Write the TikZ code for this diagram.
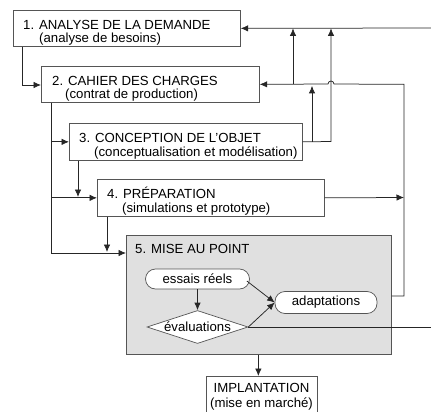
\documentclass[tikz,border=0pt]{standalone}
\usepackage{fontspec}
\setmainfont{Liberation Sans}
\usetikzlibrary{arrows.meta,shapes.geometric}
\definecolor{panel}{HTML}{E0E0E0}
\definecolor{edge}{HTML}{555555}
\begin{document}
\begin{tikzpicture}[x=1pt,y=-1pt,
  font=\fontsize{13.2}{15}\selectfont,
  box/.style={draw=edge, fill=white, line width=0.7pt, anchor=north west, inner sep=0pt},
  txt/.style={anchor=base west, inner sep=0pt},
  ctxt/.style={anchor=base, inner sep=0pt},
  pill/.style={draw=edge, fill=white, line width=0.7pt, rounded corners=10pt, inner sep=0pt},
  conn/.style={line width=0.75pt, draw=black!85},
  arr/.style={conn, -{Latex[length=7.5pt,width=6.5pt]}}]
\useasboundingbox (0,0) rectangle (431,412);

% main boxes
\node[box, minimum width=227pt, minimum height=36pt] (b1) at (13,10) {};
\node[txt] (t1) at (23,29.5) {1. ANALYSE DE LA DEMANDE};
\node[txt] (s1) at (39,43) {(analyse de besoins)};

\node[box, minimum width=218pt, minimum height=36pt] (b2) at (41,66) {};
\node[txt] (t2) at (52,85.5) {2. CAHIER DES CHARGES};
\node[txt] (s2) at (65,99) {(contrat de production)};

\node[box, minimum width=233pt, minimum height=37pt] (b3) at (69,123) {};
\node[txt] (t3) at (79,142.5) {3. CONCEPTION DE L'OBJET};
\node[txt] (s3) at (94,156) {(conceptualisation et modélisation)};

\node[box, minimum width=227pt, minimum height=37pt] (b4) at (97,179) {};
\node[txt] (t4) at (107,198.5) {4. PRÉPARATION};
\node[txt] (s4) at (122,212) {(simulations et prototype)};

\node[box, fill=panel, minimum width=265pt, minimum height=119pt] (b5) at (126,235) {};
\node[txt] (t5) at (135,253) {5. MISE AU POINT};

\node[box, minimum width=111pt, minimum height=36pt] (b6) at (206,376) {};
\node[ctxt] (t6) at (261.5,392) {IMPLANTATION};
\node[ctxt] (s6) at (261.5,407) {(mise en marché)};

% inner nodes
\node[pill, minimum width=104pt, minimum height=20pt] (es) at (197.5,279) {essais réels};
\node[pill, minimum width=102pt, minimum height=22pt] (ad) at (326,302.5) {adaptations};
\node[draw=edge, fill=white, line width=0.7pt, shape=diamond, aspect=3.2, inner sep=0pt,
      minimum width=101pt, minimum height=33pt] (ev) at (197.5,327) {évaluations};

% coordinates
\coordinate (j1) at (22,85);
\coordinate (j2) at (51,253);
\coordinate (j3) at (78,197);
\coordinate (j4) at (107,252);
\coordinate (r4) at (404,197.5);
\coordinate (r5) at (404,296);
\coordinate (hop) at (331,84);
\coordinate (r3) at (331,141.5);
\coordinate (k3) at (312,141.5);
\coordinate (k2) at (293,84);
\coordinate (e1) at (431,28);
\coordinate (e2) at (431,327);

% forward connectors
\draw[arr] (b1.south -| j1) -- (j1) -- (j1 -| b2.west);
\draw[arr] (b2.south -| j2) -- (j2) -- (j2 -| b5.west);
\draw[arr] (j2 |- b3.west) -- (b3.west);
\draw[arr] (j2 |- b4.west) -- (b4.west);
\draw[arr] (b3.south -| j3) -- (j3);
\draw[arr] (b4.south -| j4) -- (j4);
\draw[arr] (b4.east) -- (r4);
\draw[arr] (b5.south -| b6.north) ++(-3.5,0) -- ([xshift=-3.5pt]b6.north);

% feedback connectors
\draw[arr] (e1) -- (b1.east);
\draw[arr] (b5.east |- r5) -- (r5) -- (r5 |- b2.east) -- ([xshift=3pt]hop)
   arc[start angle=0, end angle=-180, radius=3] -- (b2.east);
\draw[arr] (k2) -- (k2 |- b1.east);
\draw[arr] (b3.east) -- (r3) -- (r3 |- b1.east);
\draw[arr] (k3) -- ([yshift=-1.5pt]k3 |- b2.east);

% inner connectors
\draw[arr] (es.south -| ev.north) -- (ev.north);
\draw[arr] (es.east) ++(-3,2) -- (ad.west);
\draw[arr] (ev.east) -- (ad.west);
\draw[conn] (ev.east) -- (e2);
\end{tikzpicture}
\end{document}
